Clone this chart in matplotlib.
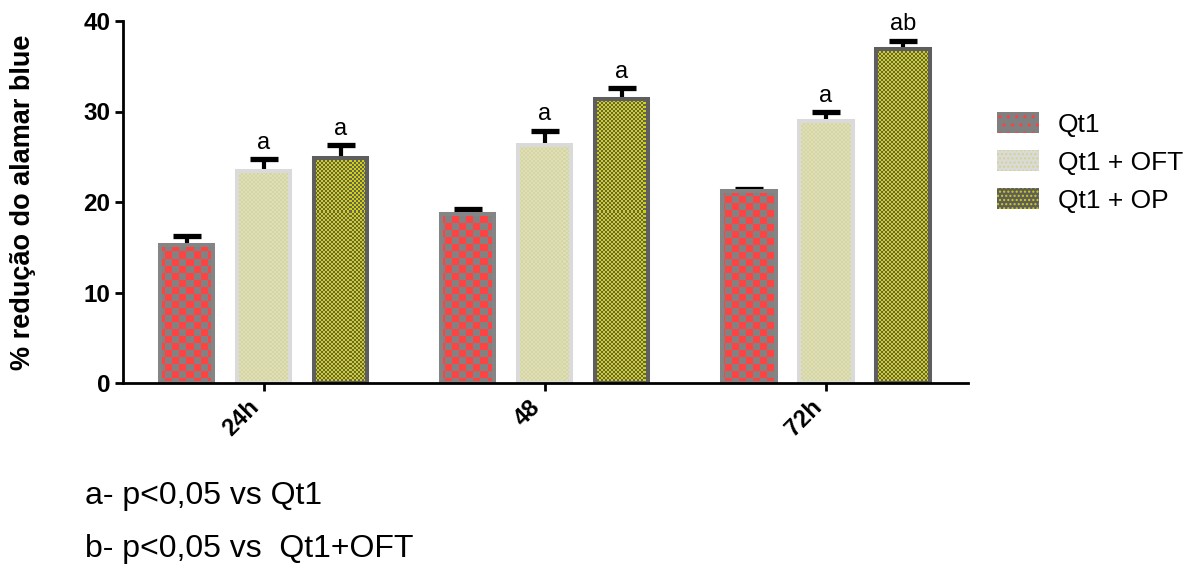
import numpy as np
import matplotlib
matplotlib.use("Agg")
import matplotlib.pyplot as plt
from matplotlib.patches import Patch

# ---------------- data ----------------
categories = ["24h", "48", "72h"]
series_names = ["Qt1", "Qt1 + OFT", "Qt1 + OP"]
qt1 = [15.3, 18.7, 21.2]
qt1_err = [0.9, 0.5, 0.2]
oft = [23.4, 26.3, 28.9]
oft_err = [1.3, 1.6, 1.0]
op = [24.9, 31.4, 36.9]
op_err = [1.4, 1.2, 0.9]
oft_sig = ["a", "a", "a"]
op_sig = ["a", "a", "ab"]
yticks = [0, 10, 20, 30, 40]
footnotes = ["a- p<0,05 vs Qt1", "b- p<0,05 vs  Qt1+OFT"]
ylabel = "% redução do alamar blue"

plt.rcParams["font.family"] = ["Liberation Sans", "DejaVu Sans"]

W, H = 1198, 565
fig = plt.figure(figsize=(W / 100, H / 100), dpi=100)
ax_left, ax_right, ax_top, ax_bot = 123, 968, 21, 383
ax = fig.add_axes([ax_left / W, 1 - ax_bot / H, (ax_right - ax_left) / W, (ax_bot - ax_top) / H])

xlim = (-0.5, 2.505)
ylim = (0, 40)

pw, ph = ax_right - ax_left, ax_bot - ax_top


def checker(c1, c2, cell):
    yy, xx = np.mgrid[0:ph, 0:pw]
    m = ((xx // cell + yy // cell) % 2).astype(bool)
    img = np.zeros((ph, pw, 3))
    img[m] = matplotlib.colors.to_rgb(c1)
    img[~m] = matplotlib.colors.to_rgb(c2)
    return img


textures = [
    checker("#ff4242", "#828282", 7),
    checker("#d6d6a2", "#dedeb8", 2),
    checker("#d2d200", "#636363", 2),
]
edgecolors = ["#858585", "#dadada", "#5e5e5e"]
series = [qt1, oft, op]
errs = [qt1_err, oft_err, op_err]

x = np.arange(len(categories))
pitch = 0.274
width = 0.189
lw_edge = 2.9

for i, (vals, err) in enumerate(zip(series, errs)):
    xs = x + (i - 1) * pitch
    bars = ax.bar(xs, vals, width, color=edgecolors[i], linewidth=0, zorder=1)
    for b in bars:
        im = ax.imshow(textures[i], extent=(xlim[0], xlim[1], ylim[0], ylim[1]),
                       aspect="auto", interpolation="nearest", zorder=1.2, origin="upper")
        im.set_clip_path(b)
    eb = ax.errorbar(xs, vals, yerr=[np.zeros(len(vals)), err], fmt="none", ecolor="black",
                     elinewidth=3.0, capsize=10, capthick=3.8, zorder=1.8)
    eb[1][0].set_visible(False)  # hide lower caps
    ax.bar(xs, vals, width, facecolor="none", edgecolor=edgecolors[i], linewidth=lw_edge, zorder=2)

for i, (vals, err, sig) in enumerate([(oft, oft_err, oft_sig), (op, op_err, op_sig)]):
    xs = x + i * pitch
    for xx, v, e, s in zip(xs, vals, err, sig):
        ax.text(xx, v + e + 0.6, s, ha="center", va="bottom", fontsize=17, zorder=3,
                clip_on=False)

ax.set_xlim(*xlim)
ax.set_ylim(*ylim)
ax.set_yticks(yticks)
ax.set_xticks(x)
ax.set_xticklabels(categories, rotation=45, ha="right", va="top", fontweight="bold", fontsize=17)
for lab in ax.get_yticklabels():
    lab.set_fontweight("bold")
    lab.set_fontsize(17.5)
ax.spines["top"].set_visible(False)
ax.spines["right"].set_visible(False)
for s in ("left", "bottom"):
    ax.spines[s].set_linewidth(2.0)
ax.tick_params(axis="both", width=2.0, length=6, direction="out", pad=3)
ax.set_ylabel(ylabel, fontsize=19.5, fontweight="bold")
ax.yaxis.set_label_coords(-0.103, 0.5)

handles = [
    Patch(facecolor="#808080", edgecolor="#ff4040", linewidth=0, hatch="..", label=series_names[0]),
    Patch(facecolor="#dadada", edgecolor="#d4d488", linewidth=0, hatch="....", label=series_names[1]),
    Patch(facecolor="#5e5e5e", edgecolor="#d2d200", linewidth=0, hatch="....", label=series_names[2]),
]
fig.legend(handles=handles, loc="upper left", bbox_to_anchor=(997 / W, 1 - 112 / H),
           frameon=False, fontsize=19, handlelength=1.6, handleheight=0.87,
           labelspacing=0.5, handletextpad=0.7, borderaxespad=0, borderpad=0)

fig.text(85 / W, 1 - 496 / H, footnotes[0], fontsize=23, va="center", ha="left")
fig.text(85 / W, 1 - 549 / H, footnotes[1], fontsize=23, va="center", ha="left")

fig.savefig("out.png", dpi=100)
